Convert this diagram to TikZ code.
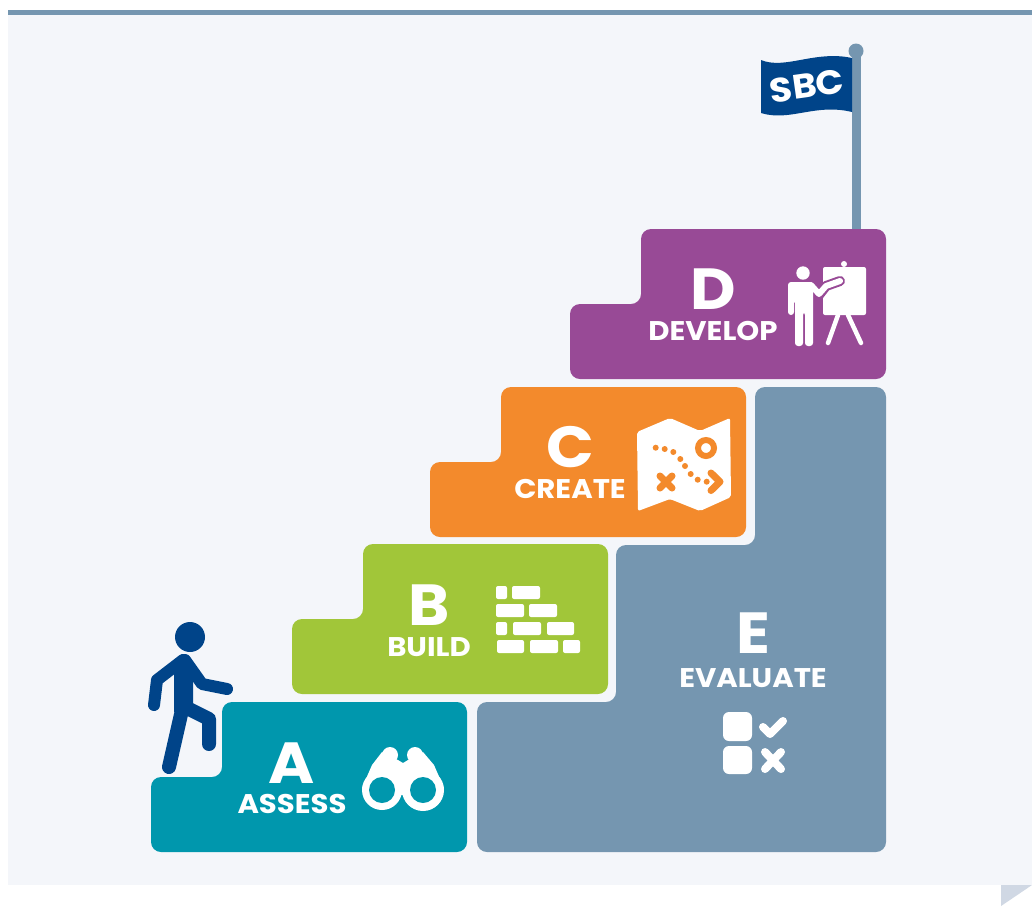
\documentclass[tikz,border=0pt]{standalone}
\usepackage{fontspec}
\setsansfont{Poppins}[FakeStretch=1.08]
\usetikzlibrary{calc}
\definecolor{panelbg}{HTML}{F4F6FA}
\definecolor{slateblue}{HTML}{7596B0}
\definecolor{tealstep}{HTML}{0097AD}
\definecolor{greenstep}{HTML}{A1C639}
\definecolor{orangestep}{HTML}{F38A2C}
\definecolor{purplestep}{HTML}{984A96}
\definecolor{navy}{HTML}{004489}
\definecolor{foldgray}{HTML}{D0D8E4}
\tikzset{
  letter/.style={text=white, font=\sffamily\bfseries\fontsize{58}{58}\selectfont, inner sep=0pt},
  word/.style={text=white, font=\sffamily\bfseries\fontsize{27}{27}\selectfont, inner sep=0pt},
  brick/.style={fill=white, rounded corners=2},
  walker/.style={navy, line cap=round, line join=round}
}
\newcommand{\stepshape}[3]{% colour, left, top
  \fill[#1, rounded corners=10] (#2,#3+75) -- (#2+71,#3+75) -- (#2+71,#3) -- (#2+316,#3)
    -- (#2+316,#3+150) -- (#2,#3+150) -- cycle;
}
\begin{document}
\begin{tikzpicture}[x=1pt,y=-1pt]
\useasboundingbox (0,0) rectangle (1032,906);
% panel
\fill[white] (0,0) rectangle (1032,906);
\fill[panelbg] (8,15) rectangle (1032,885);
\fill[slateblue] (8,10) rectangle (1032,15);
\fill[foldgray] (1001,885) -- (1032,885) -- (1001,906) -- cycle;
% flag
\fill[slateblue] (852,51) rectangle (861,232);
\fill[slateblue] (856,51) circle (7.5);
\fill[navy] (761,60) .. controls (785,70) and (815,50) .. (852,58) -- (852,112)
  .. controls (815,103) and (790,122) .. (761,113) -- cycle;
\node[rotate=8, text=white, inner sep=0pt, font=\sffamily\bfseries\fontsize{34}{34}\selectfont] (sbc) at (807,86) {SBC};
% steps
\fill[slateblue, rounded corners=10] (477,852) -- (477,702) -- (616,702) -- (616,545)
  -- (755,545) -- (755,387) -- (886,387) -- (886,852) -- cycle;
\stepshape{tealstep}{151}{702}
\stepshape{greenstep}{292}{544}
\stepshape{orangestep}{430}{387}
\stepshape{purplestep}{570}{229}
% labels
\node[letter] (letterA) at (292,763) {A};
\node[word] (wordA) at (292,804) {ASSESS};
\node[letter] (letterB) at (429,605) {B};
\node[word] (wordB) at (429,647) {BUILD};
\node[letter] (letterC) at (570,447) {C};
\node[word] (wordC) at (570,489) {CREATE};
\node[letter] (letterD) at (713,289) {D};
\node[word] (wordD) at (713,331) {DEVELOP};
\node[letter] (letterE) at (753,633) {E};
\node[word] (wordE) at (753,678) {EVALUATE};
% walker
\fill[navy] (190,637) circle (15);
\fill[walker] (174,662) -- (183,654) -- (193,662) -- (193,710) -- (174,712) -- cycle;
\draw[walker, line width=12] (183,660) -- (157,680) -- (154,705);
\draw[walker, line width=12] (185,660) -- (202,684) -- (227,689);
\draw[walker, line width=14] (182,710) -- (169,767);
\draw[walker, line width=14] (187,708) -- (209,719) -- (209,744);
% binoculars
\fill[white] (382,790) circle (20) (423,790) circle (21);
\fill[white] (390,755) circle (8) (415,755) circle (8);
\fill[white] (362,788) -- (372,765) -- (382,752) -- (398,760) -- (403,763) -- (408,760) -- (423,752)
  -- (434,765) -- (444,788) -- (423,795) -- (382,795) -- cycle;
\fill[tealstep] (382,790) circle (13) (423,790) circle (13);
% bricks
\foreach \xa/\ya/\xb/\yb in {496/586/507/599, 512/586/540/599, 496/604/524/617, 529/604/557/617,
    496/622/507/635, 513/622/541/635, 547/622/574/635, 497/640/524/653, 530/640/558/653, 563/640/580/653}
  \fill[brick] (\xa,\ya) rectangle (\xb,\yb);
% map
\fill[white, rounded corners=2] (637,432) -- (670,418) -- (700,431) -- (730,418) -- (731,497)
  -- (700,511) -- (670,499) -- (638,511) -- cycle;
\draw[orangestep, line width=6] (706,448) circle (8);
\foreach \px/\py in {655.7/447.7, 664.7/449, 673.3/452, 680.3/459, 685/466, 690.7/474, 697.7/479.7, 706.7/481.7}
  \fill[orangestep] (\px,\py) circle (3);
\draw[orangestep, line width=7, line cap=round, line join=round] (711,473) -- (720,481.7) -- (711,490.5);
\draw[orangestep, line width=7, line cap=round] (660,476) -- (672,488) (672,476) -- (660,488);
% presenter
\fill[white] (803,273) circle (6.7);
\fill[white, rounded corners=3] (788,282) -- (813,282) -- (813,346) -- (805,346) -- (805,312)
  -- (803,312) -- (803,346) -- (795,346) -- (795,312) -- (795,300) -- (794,300) -- (794,315) -- (788,315) -- cycle;
\fill[white, rounded corners=2] (823,267) rectangle (866,315);
\fill[white] (844,264) circle (3);
\draw[white, line width=4.5, line cap=round] (838,315) -- (828,343) (848,315) -- (861,343);
\draw[purplestep, line width=10, line cap=round, line join=round] (819,295) -- (826,286) -- (840,281);
\draw[white, line width=6, line cap=round, line join=round] (811,285) -- (819,294) -- (826,286) -- (840,281);
% check list
\fill[white, rounded corners=6] (723,712) rectangle (752,741);
\fill[white, rounded corners=6] (723,746) rectangle (752,774);
\draw[white, line width=8, line cap=round, line join=round] (763,727) -- (770,734) -- (783,721);
\draw[white, line width=8, line cap=round] (765,752) -- (781,769) (781,752) -- (765,769);
\end{tikzpicture}
\end{document}
